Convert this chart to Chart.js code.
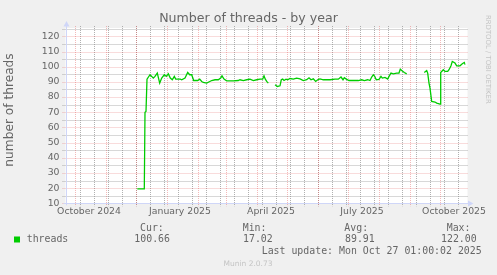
<!DOCTYPE html>
<html>
<head>
<meta charset="utf-8">
<script src="https://cdn.jsdelivr.net/npm/chart.js@4/dist/chart.umd.min.js"></script>
<style>
html,body{margin:0;padding:0;background:#F0F0F0;}
#wrap{position:relative;width:497px;height:275px;}
canvas{display:block;}
</style>
</head>
<body>
<div id="wrap"><canvas id="c" width="497" height="275"></canvas></div>
<script>
// ---- chart data (x = days since 22 Sep 2024 01:00, the left edge of the 400-day window) ----
const chartTitle = 'Number of threads - by year';
const yAxisTitle = 'number of threads';
const seriesName = 'threads';
const monthLabels = ['October 2024', 'January 2025', 'April 2025', 'July 2025', 'October 2025'];
const monthLabelDays = [23.5, 114.5, 205.5, 296.5, 388.5];
const monthStartDays = [9, 40, 70, 101, 132, 160, 191, 221, 252, 282, 313, 344, 374];
const minorGridDays = [14, 28, 42, 56, 70, 84, 98, 112, 126, 140, 154, 168, 182, 196, 210, 224, 238, 252, 266, 280, 294, 308, 322, 336, 350, 364, 378, 392];
const yLabels = [10, 20, 30, 40, 50, 60, 70, 80, 90, 100, 110, 120];
const yMinor = [15, 25, 35, 45, 55, 65, 75, 85, 95, 105, 115, 125];
const days = [71.8, 78.8, 79.5, 80.5, 81.5, 84.5, 86.2, 87.8, 89.5, 91.8,
  94.2, 96.2, 98.8, 100.8, 102.8, 104.8, 106.8, 108.8, 110.2, 114.8,
  116.2, 119.5, 122.2, 124.2, 126.2, 128.2, 132.2, 134.2, 136.2, 137.8,
  141.2, 143.8, 146.2, 149.5, 152.8, 155.2, 156.5, 158.5, 161.2, 167.8,
  172.8, 174.5, 177.8, 181.2, 184.5, 187.8, 191.2, 194.5, 197.2, 198.5,
  199.8, 201.2, 202.8, 206, 209.5, 211.8, 214.5, 215.8, 217.2, 218.5,
  220.5, 222.2, 224.5, 227.8, 231.2, 234.5, 237.8, 241.2, 243.5, 245.5,
  247.8, 250.2, 252.2, 254.5, 257.8, 264.5, 269.5, 272.8, 275.5, 277.5,
  278.8, 280.8, 283.5, 292.8, 296.2, 298.8, 302.2, 304.5, 306.2, 307.8,
  309.2, 310.8, 313.5, 315.5, 316.8, 319.5, 322.2, 323.5, 325.5, 327.8,
  331.2, 333.5, 334.8, 336.2, 338.8, 341.2, 350, 358.8, 361.2, 362.2,
  363.5, 364.5, 366.2, 369.5, 371.2, 374.5, 375.2, 377.8, 379.5, 382.2,
  383.5, 385.5, 386.8, 389.5, 391.2, 394.5, 396.8, 398.8, 399.8];
const threads = [19.5, 19.5, 70, 70.5, 91.8, 94.7, 93.6, 92.5, 93.6, 95.8,
  89.2, 92.5, 94.7, 93.6, 95.3, 92.5, 91.4, 93.6, 91.8, 91.8,
  91.4, 92.5, 96.2, 94.7, 94.7, 90.9, 90.9, 91.8, 90.3, 89.6,
  89.2, 90.1, 90.9, 91.4, 91.4, 92.5, 94.0, 91.8, 90.7, 90.7,
  90.9, 91.4, 90.9, 91.4, 91.8, 90.9, 91.4, 91.8, 91.8, 94.0,
  91.8, 90.3, 89.2, null, 88.1, 87.0, 87.4, 91.4, 91.8, 90.9,
  91.8, 91.4, 92.2, 91.8, 92.5, 92.0, 90.9, 91.4, 92.7, 91.4,
  92.0, 90.3, 91.4, 92.0, 91.4, 91.4, 91.8, 91.8, 93.2, 91.4,
  92.7, 91.8, 90.9, 90.9, 91.4, 90.9, 91.4, 90.9, 93.2, 94.7,
  93.6, 91.4, 91.6, 93.6, 92.5, 92.9, 91.8, 93.6, 95.8, 95.3,
  95.8, 95.8, 98.4, 97.5, 96.2, 95.3, null, 96.2, 97.5, 95.8,
  89.2, 85.9, 77.1, 76.7, 76.0, 75.3, 96.2, 98.0, 96.9, 96.9,
  98.0, 100.6, 103.5, 102.4, 100.6, 100.6, 101.9, 102.8, 101.3];
const statNames = ['Cur:', 'Min:', 'Avg:', 'Max:'];
const statValues = ['100.66', '17.02', '89.91', '122.00'];
const lastUpdate = 'Last update: Mon Oct 27 01:00:02 2025';
const versionText = 'Munin 2.0.73';
const rrdText = 'RRDTOOL / TOBI OETIKER';

// ---- styles ----
const FONT = 'DejaVu Sans';
const MONO = 'DejaVu Sans Mono';
const TEXT = '#666666';
const LINE = '#00CC00';
const GRID = 'rgba(143,143,143,0.7)';
const MGRID = 'rgba(225,80,80,0.4)';
const AXIS = '#CFD6F8';

const muninPlugin = {
  id: 'munin',
  beforeDraw(chart) {
    const ctx = chart.ctx, a = chart.chartArea;
    const xs = chart.scales.x, ys = chart.scales.y;
    ctx.save();
    ctx.fillStyle = '#F0F0F0';
    ctx.fillRect(0, 0, chart.width, chart.height);
    ctx.fillStyle = '#FFFFFF';
    ctx.fillRect(a.left, a.top, a.right - a.left + 2, a.bottom - a.top);
    ctx.lineWidth = 1;
    ctx.setLineDash([1, 1]);
    const hline = (v, c) => {
      const y = Math.round(ys.getPixelForValue(v)) + 0.5;
      ctx.strokeStyle = c; ctx.beginPath();
      ctx.moveTo(a.left - 3, y); ctx.lineTo(a.right + 2, y); ctx.stroke();
    };
    const vline = (d, c) => {
      const x = Math.round(xs.getPixelForValue(d)) + 0.5;
      ctx.strokeStyle = c; ctx.beginPath();
      ctx.moveTo(x, a.top - 2); ctx.lineTo(x, a.bottom + 3); ctx.stroke();
    };
    yMinor.forEach(v => hline(v, GRID));
    minorGridDays.forEach(d => vline(d, GRID));
    yLabels.forEach(v => hline(v, MGRID));
    monthStartDays.forEach(d => vline(d, MGRID));
    ctx.setLineDash([]);
    // axes
    ctx.strokeStyle = AXIS; ctx.fillStyle = AXIS;
    const ax = Math.round(a.left) + 0.5, ay = Math.round(a.bottom) + 0.5;
    ctx.beginPath(); ctx.moveTo(ax, a.bottom + 2); ctx.lineTo(ax, a.top - 2); ctx.stroke();
    ctx.beginPath(); ctx.moveTo(ax - 3, a.top - 1.5); ctx.lineTo(ax + 3, a.top - 1.5); ctx.lineTo(ax, a.top - 7); ctx.closePath(); ctx.fill();
    ctx.beginPath(); ctx.moveTo(a.left - 2, ay); ctx.lineTo(a.right + 3, ay); ctx.stroke();
    ctx.beginPath(); ctx.moveTo(a.right + 2.5, ay - 3); ctx.lineTo(a.right + 2.5, ay + 3); ctx.lineTo(a.right + 8, ay); ctx.closePath(); ctx.fill();
    ctx.restore();
  },
  afterDraw(chart) {
    const ctx = chart.ctx;
    ctx.save();
    ctx.fillStyle = TEXT;
    ctx.textBaseline = 'middle';
    ctx.textAlign = 'center';
    ctx.font = '12.6px "' + FONT + '"';
    ctx.fillText(chartTitle, 248.5, 19);
    ctx.save();
    ctx.translate(10, 110);
    ctx.rotate(-Math.PI / 2);
    ctx.font = '12.2px "' + FONT + '"';
    ctx.fillText(yAxisTitle, 0, 0);
    ctx.restore();
    // legend
    ctx.fillStyle = LINE;
    ctx.fillRect(14, 236.5, 6, 6);
    ctx.fillStyle = TEXT;
    ctx.textAlign = 'left';
    ctx.font = '9.9px "' + MONO + '"';
    ctx.fillText(seriesName, 26.7, 239.8);
    const nameX = [140, 242.7, 344.3, 446.7];
    const valX = [134.3, 243, 345, 441];
    statNames.forEach((s, i) => ctx.fillText(s, nameX[i], 228.5));
    statValues.forEach((s, i) => ctx.fillText(s, valX[i], 239.8));
    ctx.fillText(lastUpdate, 261.7, 251.8);
    // watermarks
    ctx.fillStyle = '#C4C4C4';
    ctx.textAlign = 'center';
    ctx.font = '7.5px "' + FONT + '"';
    ctx.fillText(versionText, 248, 264.5);
    ctx.save();
    ctx.translate(488, 15);
    ctx.rotate(Math.PI / 2);
    ctx.textAlign = 'left';
    ctx.font = '6.9px "' + FONT + '"';
    ctx.fillText(rrdText, 0, 0);
    ctx.restore();
    ctx.restore();
  }
};

const points = days.map((d, i) => ({ x: d, y: threads[i] }));

new Chart(document.getElementById('c'), {
  type: 'line',
  data: {
    datasets: [{
      label: seriesName,
      data: points,
      borderColor: LINE,
      backgroundColor: LINE,
      borderWidth: 1.3,
      pointRadius: 0,
      tension: 0,
      spanGaps: false
    }]
  },
  options: {
    responsive: false,
    animation: false,
    devicePixelRatio: 1,
    layout: { padding: { left: 0, right: 31.5, top: 28, bottom: 0 } },
    plugins: { legend: { display: false }, tooltip: { enabled: false }, title: { display: false } },
    scales: {
      x: {
        type: 'linear', min: 0, max: 400,
        grid: { display: false, drawTicks: false }, border: { display: false },
        afterBuildTicks: s => { s.ticks = monthLabelDays.map(v => ({ value: v })); },
        afterFit: s => { s.height = 71.7; },
        ticks: {
          autoSkip: false, maxRotation: 0, minRotation: 0, padding: 3,
          color: TEXT, font: { family: FONT, size: 9.3 },
          callback: (v, i) => monthLabels[i]
        }
      },
      y: {
        type: 'linear', min: 10, max: 125.5,
        grid: { display: false, drawTicks: false }, border: { display: false },
        afterBuildTicks: s => { s.ticks = yLabels.map(v => ({ value: v })); },
        afterFit: s => { s.width = 65.5; },
        ticks: {
          padding: 6, color: TEXT, font: { family: FONT, size: 9.3 },
          callback: v => String(v)
        }
      }
    }
  },
  plugins: [muninPlugin]
});
</script>
</body>
</html>
